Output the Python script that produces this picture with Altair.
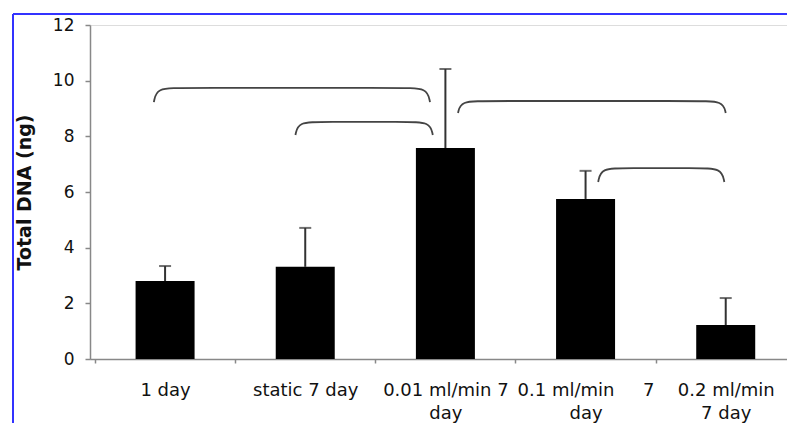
import altair as alt
import pandas as pd

# ---- data ----
categories = ["1 day", "static 7 day", "0.01 ml/min 7 day", "0.1 ml/min 7 day", "0.2 ml/min 7 day"]
label_lines = [
    ["1 day"],
    ["static 7 day"],
    ["0.01 ml/min 7", "day"],
    ["0.1 ml/min\u00a0\u00a0\u00a0\u00a0\u00a07", "day"],
    ["0.2 ml/min\u00a0\u00a0\u00a0\u00a0\u00a0\u00a0", "7 day"],
]
dna_mean = [2.80, 3.31, 7.58, 5.75, 1.22]
dna_err_top = [3.34, 4.71, 10.42, 6.76, 2.19]

# significance brackets (x in category index units, y in ng)
b_start = [-0.08, 0.93, 2.09, 3.09]
b_end = [1.89, 1.91, 4.00, 3.99]
b_top = [9.74, 8.52, 9.27, 6.86]
b_foot = [9.23, 8.05, 8.84, 6.36]

# ---- tables ----
bars = pd.DataFrame({
    "idx": list(range(len(categories))),
    "category": categories,
    "mean": dna_mean,
    "top": dna_err_top,
})

rows = []
for i, (xs, xe, yt, yf) in enumerate(zip(b_start, b_end, b_top, b_foot)):
    pts = [(xs, yf), (xs + 0.02, yt), (xs + 0.2, yt), (xe - 0.2, yt), (xe - 0.02, yt), (xe, yf)]
    for k, (px, py) in enumerate(pts):
        rows.append({"b": i, "k": k, "bx": px, "by": py})
brackets = pd.DataFrame(rows)

FONT = "DejaVu Sans"
labels_js = "[" + ",".join("[" + ",".join("'" + s + "'" for s in ln) + "]" for ln in label_lines) + "]"

xscale = alt.Scale(domain=[-0.5, 4.4015], nice=False, zero=False)
yscale = alt.Scale(domain=[0, 12], nice=False)

xaxis = alt.Axis(
    values=[-0.5, 0, 0.5, 1, 1.5, 2, 2.5, 3, 3.5, 4],
    labelExpr=f"datum.value % 1 != 0 ? '' : {labels_js}[datum.value]",
    title=None, grid=False, domainColor="#888888", domainWidth=1.5,
    tickColor="#888888", tickSize=4, tickWidth=1.5,
    tickOpacity={"condition": {"test": "datum.value % 1 == 0", "value": 0}, "value": 1},
    labelFont=FONT, labelFontSize=18, labelColor="#111111", labelAlign="center",
    labelBaseline="top", labelPadding=18, labelLineHeight=23,
    labelOverlap=False, labelFlush=False, labelBound=False,
)
yaxis = alt.Axis(
    values=[0, 2, 4, 6, 8, 10, 12], title="Total DNA (ng)", grid=False,
    domainColor="#888888", domainWidth=1.5, tickColor="#888888", tickSize=5, tickWidth=1.5,
    labelFont=FONT, labelFontSize=17, labelColor="#111111", labelPadding=11,
    titleFont=FONT, titleFontSize=19, titleFontWeight="bold", titleColor="#111111",
    titlePadding=18,
)

base = alt.Chart(bars)
bar_layer = base.mark_bar(color="#000000", width=59).encode(
    x=alt.X("idx:Q", scale=xscale, axis=xaxis),
    y=alt.Y("mean:Q", scale=yscale, axis=yaxis),
)
whisker = base.mark_rule(color="#333333", strokeWidth=2).encode(
    x="idx:Q", y="mean:Q", y2="top:Q"
)
cap = base.mark_tick(color="#333333", orient="horizontal", size=12, thickness=2).encode(
    x="idx:Q", y="top:Q"
)
bracket_layer = alt.Chart(brackets).mark_line(
    color="#444444", strokeWidth=1.8, interpolate="basis"
).encode(
    x="bx:Q", y="by:Q", detail="b:N", order="k:Q"
)
frame_left = alt.Chart(bars).mark_rule(color="#3333ff", strokeWidth=2).encode(
    x=alt.value(-77), y=alt.value(-11), y2=alt.value(400)
)
frame_top = alt.Chart(bars).mark_rule(color="#3333ff", strokeWidth=2).encode(
    x=alt.value(-77), x2=alt.value(700), y=alt.value(-11)
)

chart = alt.layer(bar_layer, whisker, cap, bracket_layer, frame_left, frame_top).properties(
    width=697, height=334,
    autosize=alt.AutoSizeParams(type="none"),
    padding={"left": 90, "top": 25, "right": 0, "bottom": 64},
).configure_view(stroke=None).configure(background="white")

chart.save("out.html", embed_options={"renderer": "svg", "actions": False})
